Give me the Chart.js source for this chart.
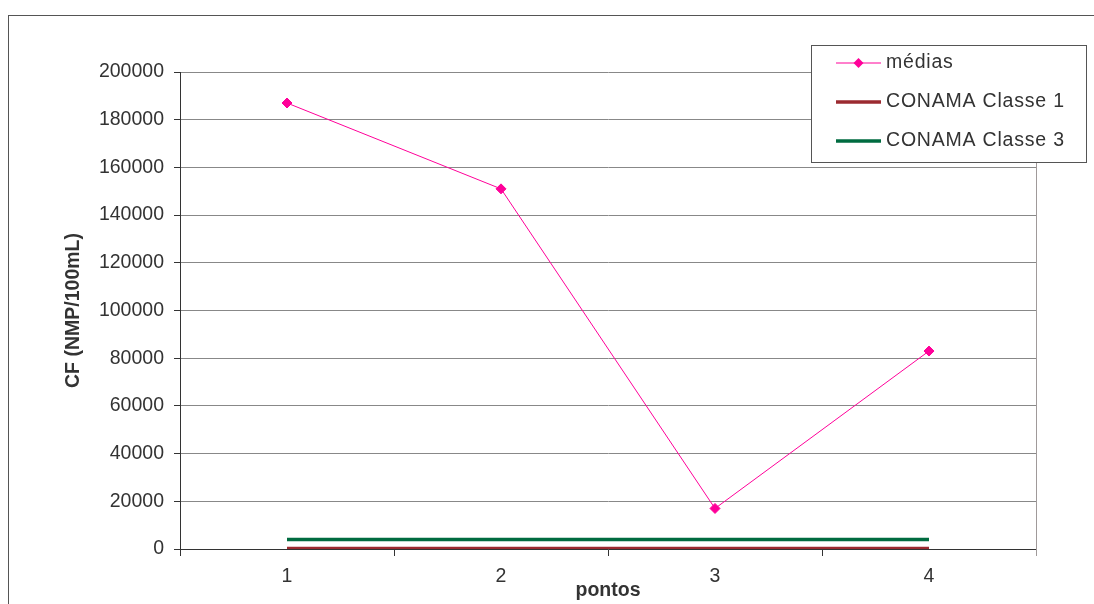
<!DOCTYPE html>
<html lang="pt">
<head>
  <meta charset="UTF-8">
  <title>CF por ponto</title>
  <script src="https://cdn.jsdelivr.net/npm/chart.js"></script>
  <style>
    html, body { margin: 0; padding: 0; background: #fff; }
    .frame { position: absolute; left: 8px; top: 15px; width: 1200px; height: 700px; border: 1px solid #555; }
    .wrap { position: absolute; left: 0; top: 0; width: 1094px; height: 604px; }
  </style>
</head>
<body>
  <div class="frame"></div>
  <div class="wrap"><canvas id="cfChart" width="1094" height="604"></canvas></div>

  <script>
    // data
    const pontos = ['1', '2', '3', '4'];
    const medias = [187000, 151000, 17000, 83000];
    const conamaClasse1 = [200, 200, 200, 200];
    const conamaClasse3 = [4000, 4000, 4000, 4000];
    const yTicks = [0, 20000, 40000, 60000, 80000, 100000, 120000, 140000, 160000, 180000, 200000];

    const FONT = 'Liberation Sans, Arial, sans-serif';
    const SIZE = 19.5;

    // box legend drawn in the top right corner, plus the grey right edge of the plot
    const boxLegend = {
      id: 'boxLegend',
      afterDraw(chart) {
        const ctx = chart.ctx;
        const area = chart.chartArea;
        ctx.save();
        ctx.strokeStyle = '#a09a9a';
        ctx.lineWidth = 1;
        ctx.beginPath();
        ctx.moveTo(area.right + 0.5, area.top);
        ctx.lineTo(area.right + 0.5, area.bottom + 7);
        ctx.stroke();

        const x = 811, y = 45, w = 275, h = 117;
        ctx.fillStyle = '#fff';
        ctx.fillRect(x, y, w, h);
        ctx.strokeStyle = '#555';
        ctx.strokeRect(x + 0.5, y + 0.5, w, h);

        ctx.font = SIZE + 'px ' + FONT;
        ctx.letterSpacing = '0.8px';
        ctx.textBaseline = 'middle';
        chart.data.datasets.forEach((ds, i) => {
          const ly = 63 + i * 39;
          ctx.strokeStyle = ds.borderColor;
          ctx.lineWidth = ds.borderWidth;
          ctx.beginPath();
          ctx.moveTo(836, ly);
          ctx.lineTo(881, ly);
          ctx.stroke();
          if (ds.pointRadius > 0) {
            ctx.fillStyle = ds.pointBackgroundColor;
            ctx.beginPath();
            ctx.moveTo(858.5, ly - 5);
            ctx.lineTo(863.5, ly);
            ctx.lineTo(858.5, ly + 5);
            ctx.lineTo(853.5, ly);
            ctx.closePath();
            ctx.fill();
          }
          ctx.fillStyle = '#333';
          ctx.fillText(ds.label, 886, ly);
        });
        ctx.restore();
      }
    };

    new Chart(document.getElementById('cfChart'), {
      type: 'line',
      data: {
        labels: pontos,
        datasets: [
          {
            label: 'médias',
            data: medias,
            borderColor: '#ff0099',
            backgroundColor: '#ff0099',
            pointBackgroundColor: '#ff0099',
            pointBorderColor: '#ff0099',
            borderWidth: 1,
            pointStyle: 'rectRot',
            pointRadius: 5,
            tension: 0
          },
          {
            label: 'CONAMA Classe 1',
            data: conamaClasse1,
            borderColor: '#9b2a30',
            backgroundColor: '#9b2a30',
            borderWidth: 3.5,
            pointRadius: 0,
            tension: 0
          },
          {
            label: 'CONAMA Classe 3',
            data: conamaClasse3,
            borderColor: '#006b40',
            backgroundColor: '#006b40',
            borderWidth: 3.5,
            pointRadius: 0,
            tension: 0
          }
        ]
      },
      options: {
        responsive: false,
        animation: false,
        layout: { padding: { left: 0, top: 72, right: 58, bottom: 0 } },
        plugins: {
          legend: { display: false },
          tooltip: { enabled: false }
        },
        scales: {
          x: {
            offset: true,
            grid: { drawOnChartArea: false, offset: true, tickLength: 7, color: '#333' },
            border: { color: '#333', width: 1 },
            ticks: { color: '#333', font: { family: FONT, size: SIZE }, padding: 9 },
            title: {
              display: true, text: 'pontos', color: '#333',
              font: { family: FONT, size: SIZE, weight: 'bold' },
              padding: { top: 0, bottom: 2 }
            },
            afterFit(scale) { scale.height = 55; }
          },
          y: {
            min: 0,
            max: 200000,
            afterBuildTicks(scale) { scale.ticks = yTicks.map(v => ({ value: v })); },
            grid: { color: '#888', tickLength: 6, tickColor: '#333' },
            border: { color: '#333', width: 1 },
            ticks: {
              color: '#333', font: { family: FONT, size: SIZE }, padding: 10,
              callback: v => String(v)
            },
            title: {
              display: true, text: 'CF (NMP/100mL)', color: '#333',
              font: { family: FONT, size: SIZE, weight: 'bold' },
              padding: { top: 62, bottom: 0 }
            },
            afterFit(scale) { scale.width = 180; }
          }
        }
      },
      plugins: [boxLegend]
    });
  </script>
</body>
</html>
